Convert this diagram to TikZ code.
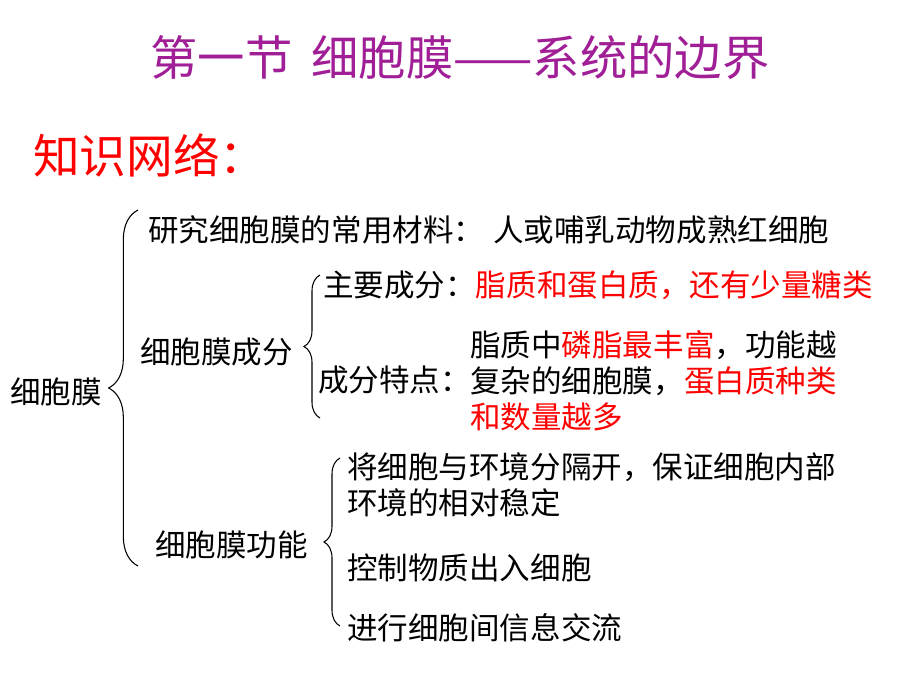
\documentclass[tikz,border=0pt]{standalone}
\usepackage{fontspec}
\setmainfont{Noto Sans CJK SC}
\usetikzlibrary{decorations.pathreplacing}
\definecolor{ttl}{HTML}{A01E96}
\begin{document}
\begin{tikzpicture}[x=0.75pt,y=-0.75pt,
  txt/.style={anchor=west,inner sep=0pt,font=\fontsize{22.9pt}{26pt}\selectfont},
  brc/.style={draw,line width=0.8pt,decorate,decoration={brace,mirror,amplitude=#1}}]
\useasboundingbox (0,0) rectangle (920,690);
\node[inner sep=0pt,text=ttl,font=\fontsize{35.5pt}{40pt}\selectfont] (title) at (460,58) {第一节\hspace{0.4em}细胞膜——系统的边界};
\node[anchor=west,inner sep=0pt,text=red,font=\fontsize{35pt}{40pt}\selectfont] (kn) at (33,155) {知识网络：};
\node[txt] (a) at (148,230) {研究细胞膜的常用材料：\hspace{0.3em}人或哺乳动物成熟红细胞};
\node[txt] (root) at (10,392) {细胞膜};
\node[txt] (b) at (140,352) {细胞膜成分};
\node[txt] (b1) at (323,285) {主要成分：\textcolor{red}{脂质和蛋白质，还有少量糖类}};
\node[txt] (b2) at (318,380) {成分特点：};
\node[txt] (b2a) at (470,345) {脂质中\textcolor{red}{磷脂最丰富}，功能越};
\node[txt] (b2b) at (470,381) {复杂的细胞膜，\textcolor{red}{蛋白质种类}};
\node[txt,text=red] (b2c) at (470,417) {和数量越多};
\node[txt] (c) at (155,545) {细胞膜功能};
\node[txt] (c1) at (347,467) {将细胞与环境分隔开，保证细胞内部};
\node[txt] (c1b) at (347,503) {环境的相对稳定};
\node[txt] (c2) at (347,568) {控制物质出入细胞};
\node[txt] (c3) at (347,628) {进行细胞间信息交流};
\coordinate (p1) at (138,210); \coordinate (p2) at (138,566);
\coordinate (q1) at (320,275); \coordinate (q2) at (320,418);
\coordinate (r1) at (340,458); \coordinate (r2) at (340,626);
\draw[brc=22pt] (p1) -- (p2);
\draw[brc=12pt] (q1) -- (q2);
\draw[brc=12pt] (r1) -- (r2);
\end{tikzpicture}
\end{document}
